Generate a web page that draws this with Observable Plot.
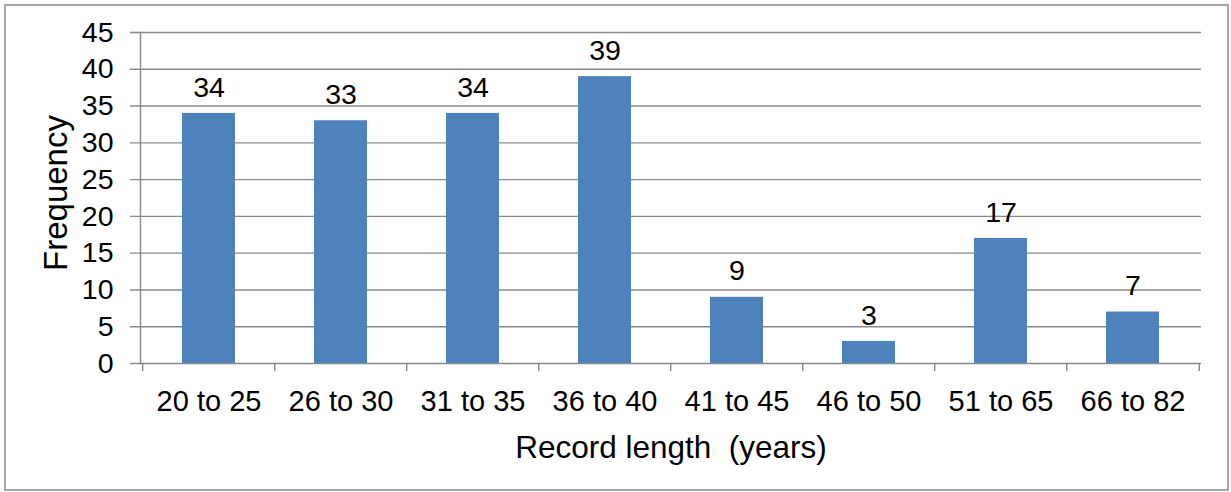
<!DOCTYPE html>
<html>
<head>
<meta charset="utf-8">
<script src="https://cdn.jsdelivr.net/npm/d3@7"></script>
<script src="https://cdn.jsdelivr.net/npm/@observablehq/plot@0.6"></script>
<style>
  body { margin: 0; background: #fff; }
  #chart { position: relative; width: 1231px; height: 492px; overflow: hidden; }
  #chart .border {
    position: absolute; left: 4px; top: 4px; width: 1225px; height: 487px;
    box-sizing: border-box; border: 2px solid #a6a6a6; pointer-events: none;
  }
  #chart svg { position: absolute; left: 0; top: 0; }
</style>
</head>
<body>
<div id="chart"><div class="border"></div></div>
<script>
// Record-length classes (years) and the number of stations in each
const categories = ["20 to 25", "26 to 30", "31 to 35", "36 to 40", "41 to 45", "46 to 50", "51 to 65", "66 to 82"];
const frequencies = [34, 33, 34, 39, 9, 3, 17, 7];
const yTicks = [0, 5, 10, 15, 20, 25, 30, 35, 40, 45];
const xTitle = "Record length  (years)";
const yTitle = "Frequency";

const data = categories.map((c, i) => ({category: c, frequency: frequencies[i]}));

const W = 1231, H = 492;
const margin = {top: 32, right: 30, bottom: 129, left: 140};
const step = (W - margin.left - margin.right) / categories.length;
const font = "'Liberation Sans', Arial, sans-serif";
const gray = "#898989";

const chart = Plot.plot({
  width: W,
  height: H,
  marginTop: margin.top,
  marginRight: margin.right,
  marginBottom: margin.bottom,
  marginLeft: margin.left,
  style: {fontFamily: font, background: "transparent", overflow: "visible"},
  x: {domain: categories, paddingInner: 0.6, paddingOuter: 0.3, axis: null},
  y: {domain: [0, 45], axis: null},
  marks: [
    // horizontal gridlines, extended left to form the tick marks
    Plot.ruleY(yTicks, {y: d => d, stroke: gray, strokeWidth: 1.4, insetLeft: -10}),
    // vertical axis line
    Plot.frame({anchor: "left", stroke: gray, strokeWidth: 1.4}),
    // category boundary ticks below the baseline
    Plot.ruleX(categories, {x: d => d, y1: 0, y2: 0, insetBottom: -8, dx: -step / 2, stroke: gray, strokeWidth: 1.4}),
    Plot.ruleX(categories.slice(-1), {x: d => d, y1: 0, y2: 0, insetBottom: -8, dx: step / 2, stroke: gray, strokeWidth: 1.4}),
    // bars
    Plot.barY(data, {x: "category", y: "frequency", fill: "#4F81BD"}),
    // value labels
    Plot.text(data, {x: "category", y: "frequency", text: d => String(d.frequency), dy: -26, lineAnchor: "middle", fontSize: 28.5, fill: "#000"}),
    // y tick labels
    Plot.text(yTicks, {y: d => d, text: d => String(d), frameAnchor: "left", textAnchor: "end", dx: -27, lineAnchor: "middle", fontSize: 28.5, fill: "#000"}),
    // x tick labels
    Plot.text(categories, {x: d => d, text: d => d, frameAnchor: "bottom", dy: 38, lineAnchor: "middle", fontSize: 29, fill: "#000"}),
    // axis titles
    Plot.text([xTitle], {text: d => d, frameAnchor: "bottom", textAnchor: "middle", dy: 84, lineAnchor: "middle", fontSize: 31.5, fill: "#000"}),
    Plot.text([yTitle], {text: d => d, frameAnchor: "left", textAnchor: "middle", dx: -84, dy: -5, rotate: -90, lineAnchor: "middle", fontSize: 33, fill: "#000"})
  ]
});

document.getElementById("chart").prepend(chart);
</script>
</body>
</html>
